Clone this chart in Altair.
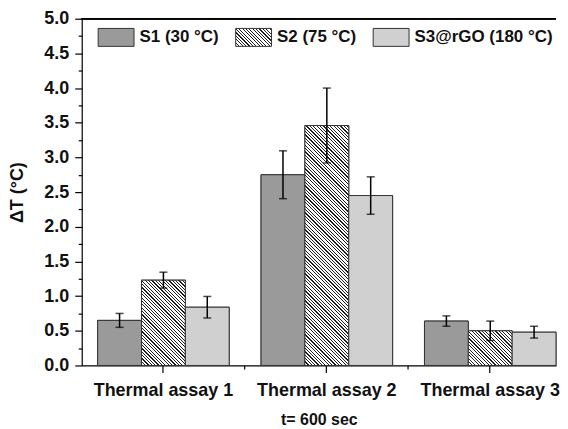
import json
import altair as alt

# ---------------- data ----------------
groups = ["Thermal assay 1", "Thermal assay 2", "Thermal assay 3"]
series = ["S1 (30 °C)", "S2 (75 °C)", "S3@rGO (180 °C)"]
s1_vals = [0.65, 2.75, 0.64]
s1_err = [0.10, 0.345, 0.075]
s2_vals = [1.23, 3.46, 0.50]
s2_err = [0.115, 0.54, 0.14]
s3_vals = [0.84, 2.45, 0.48]
s3_err = [0.155, 0.27, 0.085]
y_major = [0.0, 0.5, 1.0, 1.5, 2.0, 2.5, 3.0, 3.5, 4.0, 4.5, 5.0]
y_minor = [0.25, 0.75, 1.25, 1.75, 2.25, 2.75, 3.25, 3.75, 4.25, 4.75]
x_minor_at = ["Thermal assay 1", "Thermal assay 2"]

# ---------------- style ----------------
FONT = "Liberation Sans"
PLOT_W, PLOT_H = 476, 348
Y_MAX = 5.0
PX_PER_UNIT = PLOT_H / Y_MAX
BAR_W = 44
S1_COLOR = "#9a9a9a"
S3_COLOR = "#d0d0d0"
EDGE = "#333333"
HATCH_DARK = "#1e1e1e"
HATCH_LIGHT = "#ffffff"


def hatch(w, h, spacing=3.4, line=1.2):
    """Linear gradient (bounding-box units) giving 45deg '\\' stripes."""
    t = w * (w + h) / (w * w + h * h)
    span = w + h
    n = int(span / spacing) + 1
    stops = []
    for k in range(n):
        p0 = k * spacing / span
        p1 = (k * spacing + line) / span
        p2 = (k + 1) * spacing / span
        if p0 > 1:
            break
        stops.append({"offset": round(min(p0, 1), 5), "color": HATCH_DARK})
        stops.append({"offset": round(min(p1, 1), 5), "color": HATCH_DARK})
        stops.append({"offset": round(min(p1, 1), 5), "color": HATCH_LIGHT})
        stops.append({"offset": round(min(p2, 1), 5), "color": HATCH_LIGHT})
    return {"gradient": "linear", "x1": 0, "y1": 1, "x2": round(t, 5),
            "y2": round(1 - t * h / w, 5), "stops": stops}


vals = [s1_vals, s2_vals, s3_vals]
errs = [s1_err, s2_err, s3_err]
records = []
for j, s in enumerate(series):
    for i, g in enumerate(groups):
        v, e = vals[j][i], errs[j][i]
        if j == 1:
            fill = hatch(BAR_W, v * PX_PER_UNIT)
        else:
            fill = S1_COLOR if j == 0 else S3_COLOR
        records.append({"group": g, "series": s, "value": v,
                        "lo": v - e, "hi": v + e, "fill": fill})

base = alt.Chart(alt.Data(values=records))

xscale = alt.Scale(paddingInner=0.195, paddingOuter=0.0487, align=1.0)
offscale = alt.Scale(paddingInner=0, paddingOuter=0)
yscale = alt.Scale(domain=[0, Y_MAX], nice=False, zero=True)

x_main_axis = alt.Axis(title="t= 600 sec", labelAngle=0, tickSize=7, labelPadding=9,
                       titlePadding=12, titleFontSize=16, labelFontSize=18)
x_minor_axis = alt.Axis(title=None, labels=False, domain=False, tickSize=3.5,
                        values=x_minor_at, bandPosition=1.121, grid=False,
                        orient="bottom")
y_main_axis = alt.Axis(title="ΔT (°C)", values=y_major, format=".1f", tickSize=7,
                       labelPadding=6, titlePadding=17, titleFontSize=18,
                       labelFontSize=18)
y_minor_axis = alt.Axis(title=None, values=y_minor, labels=False, domain=False,
                        tickSize=3.5, grid=False, orient="left")

legend_grad = {"expr": json.dumps(hatch(36, 18))}

legend = alt.Legend(title=None, orient="none", legendX=16, legendY=0,
                    direction="horizontal", symbolType="M-1,-0.5H1V0.5H-1Z",
                    symbolSize=1296, symbolStrokeColor=EDGE, symbolStrokeWidth=1,
                    labelFontSize=17, labelFont=FONT, labelFontWeight="bold",
                    labelColor="#111111", labelOffset=5, columnPadding=14,
                    padding=0, symbolOpacity=1)

bars_legend = base.mark_bar(stroke=EDGE, strokeWidth=1).encode(
    x=alt.X("group:N", sort=groups, scale=xscale, axis=x_main_axis),
    xOffset=alt.XOffset("series:N", sort=series, scale=offscale),
    y=alt.Y("value:Q", scale=yscale, axis=y_main_axis),
    color=alt.Color("series:N", sort=series,
                    scale=alt.Scale(domain=series,
                                    range=[S1_COLOR, legend_grad, S3_COLOR]),
                    legend=legend),
)

bars_fill = base.mark_bar(stroke=EDGE, strokeWidth=1).encode(
    x=alt.X("group:N", sort=groups, scale=xscale, axis=None),
    xOffset=alt.XOffset("series:N", sort=series, scale=offscale),
    y=alt.Y("value:Q", scale=yscale, axis=None),
    fill=alt.Fill("fill:N", scale=None),
)

err_rule = base.mark_rule(color="black", strokeWidth=1.5).encode(
    x=alt.X("group:N", sort=groups, scale=xscale, axis=x_minor_axis),
    xOffset=alt.XOffset("series:N", sort=series, scale=offscale),
    y=alt.Y("lo:Q", scale=yscale, axis=y_minor_axis),
    y2="hi:Q",
)

cap_lo = base.mark_tick(color="black", thickness=1.5, size=8).encode(
    x=alt.X("group:N", sort=groups, scale=xscale, axis=None),
    xOffset=alt.XOffset("series:N", sort=series, scale=offscale),
    y=alt.Y("lo:Q", scale=yscale, axis=None),
)
cap_hi = base.mark_tick(color="black", thickness=1.5, size=8).encode(
    x=alt.X("group:N", sort=groups, scale=xscale, axis=None),
    xOffset=alt.XOffset("series:N", sort=series, scale=offscale),
    y=alt.Y("hi:Q", scale=yscale, axis=None),
)

frame_top = base.mark_rule(color="black", strokeWidth=1.2).encode(
    y=alt.Y(datum=Y_MAX, scale=yscale, axis=None),
)

chart = (
    alt.layer(bars_legend, bars_fill, err_rule, cap_lo, cap_hi, frame_top)
    .resolve_axis(x="independent", y="independent")
    .properties(width=PLOT_W, height=PLOT_H,
                padding={"left": 0, "top": 1, "right": 0, "bottom": 0})
    .configure_view(stroke=None)
    .configure_axis(grid=False, domainColor="black", tickColor="black",
                    domainWidth=1.2, tickWidth=1.2, labelFont=FONT,
                    labelFontWeight="bold", labelColor="#111111",
                    titleFont=FONT, titleFontWeight="bold", titleColor="#111111")
)

chart.save("out.html", embed_options={"renderer": "svg", "actions": False})
